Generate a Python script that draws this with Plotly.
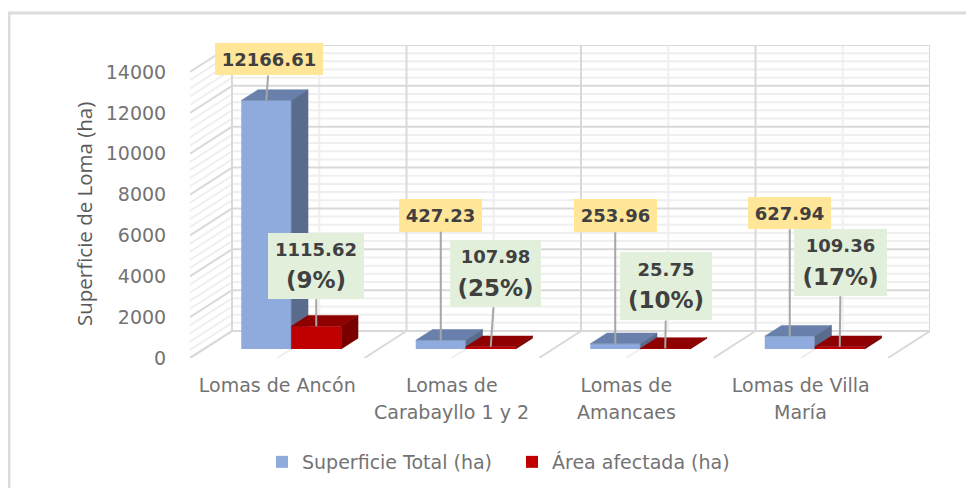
import plotly.graph_objects as go

cat_line1 = ["Lomas de Ancón", "Lomas de", "Lomas de", "Lomas de Villa"]
cat_line2 = ["", "Carabayllo 1 y 2", "Amancaes", "María"]
total_name = "Superficie Total (ha)"
area_name = "Área afectada (ha)"
total_ha = [12166.61, 427.23, 253.96, 627.94]
affected_ha = [1115.62, 107.98, 25.75, 109.36]
total_text = ["12166.61", "427.23", "253.96", "627.94"]
affected_text = ["1115.62", "107.98", "25.75", "109.36"]
pct_text = ["(9%)", "(25%)", "(10%)", "(17%)"]
y_ticks = [0, 2000, 4000, 6000, 8000, 10000, 12000, 14000]

FONT = "DejaVu Sans"
PAGE = 8                                # page offset of the figure in the browser
FW, FH = 974 - PAGE, 488 - PAGE
FRONT_W, FRONT_H = 698, 286             # front plane, pixels
DEPTH_X, DEPTH_Y = 42, 27               # depth shift, pixels
ML, MT = 190 - PAGE, 72 - DEPTH_Y - PAGE
PW, PH = FRONT_W + DEPTH_X, FRONT_H + DEPTH_Y
XMIN, XMAX, YMIN, YMAX = -0.5, 3.5, 0, 14000
PX_X = FRONT_W / (XMAX - XMIN)
PX_Y = FRONT_H / (YMAX - YMIN)
DX = DEPTH_X / PX_X
DY = DEPTH_Y / PX_Y
D0, D1 = 1 / 3, 0.733                   # bar depth span
BW = 50 / PX_X                          # bar width
MAJOR, MINOR = "#d9d9d9", "#efefef"
AXIS_X = [XMIN, XMAX + DX]
AXIS_Y = [YMIN, YMAX + DY]
BOTTOM = MT + PH                        # figure y of value 0


def proj(x, v, d):
    return x + d * DX, v + d * DY


def poly(points):
    xs, ys = zip(*[proj(*p) for p in points])
    return list(xs) + [xs[0]], list(ys) + [ys[0]]


fig = go.Figure()


def lines(segments, color, width=2):
    xs, ys = [], []
    for a, b in segments:
        p, q = proj(*a), proj(*b)
        xs += [p[0], q[0], None]
        ys += [p[1], q[1], None]
    fig.add_trace(go.Scatter(x=xs, y=ys, mode="lines", line=dict(color=color, width=width),
                             showlegend=False, hoverinfo="skip"))


# walls and floor
minor_vals = [t + k * 400 for t in y_ticks[:-1] for k in (1, 2, 3, 4)]
minor = [((XMIN, v, 0), (XMIN, v, 1)) for v in minor_vals]
minor += [((XMIN, v, 1), (XMAX, v, 1)) for v in minor_vals]
minor += [((i, 0, 1), (i, YMAX, 1)) for i in range(4)]
minor += [((i, 0, 0), (i, 0, 1)) for i in range(4)]
lines(minor, MINOR)
bounds = [XMIN + i for i in range(5)]
major = [((XMIN, v, 0), (XMIN, v, 1)) for v in y_ticks]
major += [((XMIN, v, 1), (XMAX, v, 1)) for v in y_ticks]
major += [((b, 0, 1), (b, YMAX, 1)) for b in bounds]
major += [((b, 0, 0), (b, 0, 1)) for b in bounds]
lines(major, MAJOR)


def bars(values, name, offset, front, top, side, xa, ya):
    cols = [i + offset for i in range(len(values))]
    fx = [proj(c, 0, D0)[0] for c in cols]
    base = proj(0, 0, D0)[1]
    fig.add_trace(go.Bar(x=fx, y=values, base=base, width=BW, name=name,
                         marker=dict(color=front, line_width=0),
                         xaxis=xa, yaxis=ya, hoverinfo="skip"))
    for c, v in zip(cols, values):
        l, r = c - BW / 2, c + BW / 2
        tx, ty = poly([(l, v, D0), (r, v, D0), (r, v, D1), (l, v, D1)])
        fig.add_trace(go.Scatter(x=tx, y=ty, fill="toself", fillcolor=top, mode="lines",
                                 line=dict(color=top, width=0.5), showlegend=False,
                                 hoverinfo="skip", xaxis=xa, yaxis=ya))
        sx, sy = poly([(r, 0, D0), (r, v, D0), (r, v, D1), (r, 0, D1)])
        fig.add_trace(go.Scatter(x=sx, y=sy, fill="toself", fillcolor=side, mode="lines",
                                 line=dict(color=side, width=0.5), showlegend=False,
                                 hoverinfo="skip", xaxis=xa, yaxis=ya))


bars(total_ha, total_name, -BW / 2, "#8faadc", "#6880ab", "#5a6c8e", "x2", "y2")
bars(affected_ha, area_name, BW / 2, "#c00000", "#8f0000", "#7a0000", "x3", "y3")

TXT = "#404040"
GREY = "#737373"
annotations = []
yellow_offset = [(3, -41), (0, -125), (0, -128), (0, -123)]
yellow_size = [(108, 32), (83, 33), (83, 33), (83, 32)]
green_offset = [(0, -60), (5, -73), (1, -62), (1, -84)]
green_size = [(96, 66), (91, 67), (92, 68), (93, 67)]


def label(x, y, text, off, size, bg, base_size):
    px, py = proj(x, y, D0)
    annotations.append(dict(x=px, y=py, xref="x", yref="y", text=text, ax=off[0], ay=off[1],
                            axref="pixel", ayref="pixel", showarrow=True, arrowhead=0,
                            arrowwidth=2, arrowcolor="#a6a6a6", standoff=0, startstandoff=0,
                            width=size[0], height=size[1], bgcolor=bg, borderpad=0, borderwidth=0,
                            align="center", valign="middle",
                            font=dict(family=FONT, size=base_size, color=TXT)))


for i in range(4):
    label(i - BW / 2, total_ha[i], f"<b>{total_text[i]}</b>", yellow_offset[i], yellow_size[i],
          "#ffe699", 18)
    label(i + BW / 2, affected_ha[i],
          f"<b><span style='font-size:18px'>{affected_text[i]}</span></b><br>"
          f"<b><span style='font-size:23px'>{pct_text[i]}</span></b>",
          green_offset[i], green_size[i], "#e2efda", 25)
    if cat_line2[i]:
        annotations.append(dict(x=i, y=0, xref="x", yref="y", yshift=-54, yanchor="middle",
                                text=cat_line2[i], showarrow=False,
                                font=dict(family=FONT, size=19, color=GREY)))

annotations.append(dict(xref="paper", yref="paper", x=(84 - 190) / PW, y=(358 - 214) / PH,
                        text="Superficie de Loma (ha)", textangle=-90, showarrow=False,
                        xanchor="center", yanchor="middle",
                        font=dict(family="Open Sans", size=20.5, color="#595959")))

fig.update_layout(
    width=FW, height=FH, autosize=False,
    margin=dict(l=ML, r=FW - ML - PW, t=MT, b=FH - BOTTOM),
    paper_bgcolor="#ffffff", plot_bgcolor="rgba(0,0,0,0)",
    font=dict(family=FONT, color=GREY),
    barmode="overlay",
    annotations=annotations,
    shapes=[dict(type="rect", xref="paper", yref="paper", layer="below",
                 x0=(9 - 190) / PW, x1=(1000 - 190) / PW, y0=(358 - 520) / PH, y1=(358 - 13) / PH,
                 line=dict(color="#dcdcdc", width=3))],
    legend=dict(orientation="h", xref="container", yref="container",
                x=(262 - PAGE) / FW, xanchor="left", y=1 - (462 - PAGE) / FH,
                yanchor="middle", font=dict(family=FONT, size=19, color=GREY),
                entrywidth=205, entrywidthmode="pixels", bgcolor="rgba(0,0,0,0)"),
    xaxis=dict(range=AXIS_X, tickmode="array", tickvals=list(range(4)), ticktext=cat_line1,
               showgrid=False, zeroline=False, showline=False, ticks="outside", ticklen=10,
               tickcolor="rgba(0,0,0,0)", tickfont=dict(family=FONT, size=19, color=GREY)),
    yaxis=dict(range=AXIS_Y, tickmode="array", tickvals=y_ticks,
               ticktext=[str(t) for t in y_ticks], showgrid=False, zeroline=False,
               showline=False, ticks="outside", ticklen=19, tickcolor="rgba(0,0,0,0)",
               tickfont=dict(family=FONT, size=19, color=GREY)),
)
for n in ("2", "3"):
    fig.layout["xaxis" + n] = dict(overlaying="x", range=AXIS_X, visible=False)
    fig.layout["yaxis" + n] = dict(overlaying="y", range=AXIS_Y, visible=False)

fig.write_html("out.html")
